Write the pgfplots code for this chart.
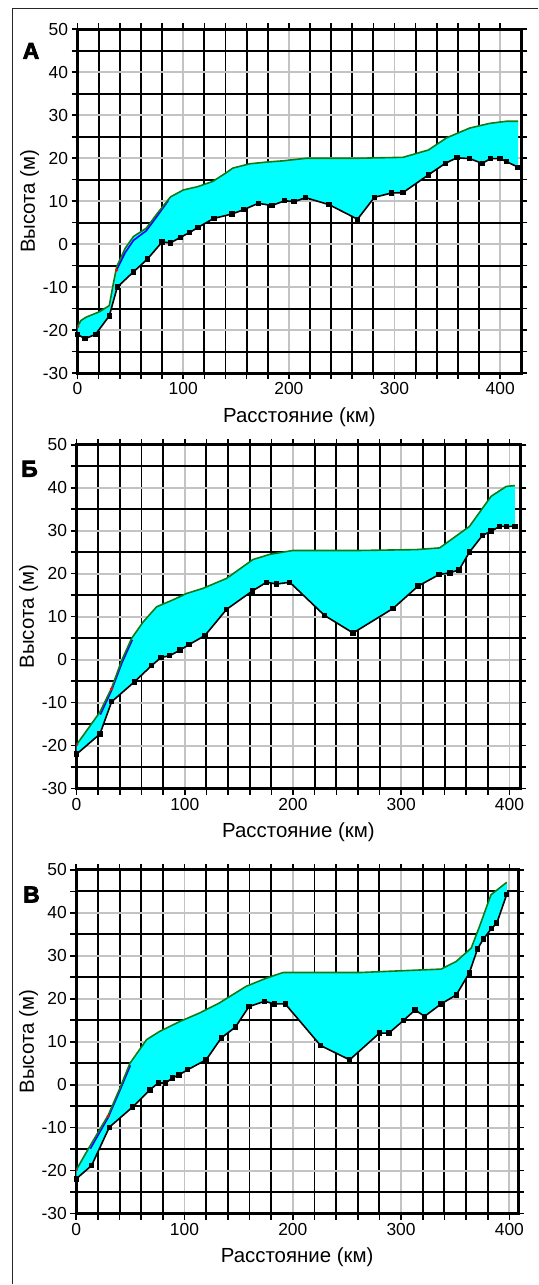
\documentclass[border=0pt]{standalone}
\usepackage{fontspec}
\setmainfont{Liberation Sans}
\newfontfamily\heavyfont[BoldFeatures={FakeBold=3.5}]{Liberation Sans}
\usepackage{pgfplots}
\pgfplotsset{compat=1.18}
\usepackage{pgfplotstable}
\usepgfplotslibrary{fillbetween}
\definecolor{upgreen}{RGB}{20,120,20}
\definecolor{gridgray}{RGB}{195,195,195}
\definecolor{aqua}{RGB}{0,255,255}

\pgfplotstableread{
x y
0 -19.2
3 -17.8
8 -17
21 -15.7
30 -14.3
34 -9
37 -5.3
45 -1
53 1.8
65 3.7
75 7
88 11
100 12.6
114 13.4
128 14.6
140 16.5
147 17.7
163 18.7
179 19.1
195 19.4
217 20
267 20
308 20.2
332 21.9
349 24.7
371 27
390 28.1
406 28.6
417 28.6
}\AUp
\pgfplotstableread{
x y
0 -21
7 -22
17 -21
30 -16.7
37.6 -10
52.7 -6.5
66 -3.5
80 0.5
88 0.3
97.5 1.6
106 2.7
114 3.9
129 6
146 7
157 8
171 9.5
184 9
196 10.1
205 9.9
216 10.8
238 9.2
265 5.8
281 10.9
297 11.9
308 12
332 16.1
348 18.8
359 20.1
371 19.9
383 18.8
391 19.9
400 19.9
406 19.2
417 17.9
}\ALo
\pgfplotstableread{
x y
0 -19.8
21.6 -12.2
32.4 -6.6
42 0
51 5
61.6 8.8
74 12.3
89 13.9
101.7 15.4
117 16.6
138.6 18.9
163 23.3
178.6 24.5
200 25.4
261.7 25.4
314 25.6
335.5 26
363 31
383 38
397 40.3
405 40.5
}\BUp
\pgfplotstableread{
x y
0 -22
21.6 -17.3
32.4 -9.8
53.3 -5.2
69.3 -1.4
78 0.5
86 0.9
95.5 2.2
104 3.5
118.6 5.6
138.6 11.7
162.6 16
175.5 18
185 17.6
197 18
229 10.3
255.5 6.2
292.4 11.9
315.5 17.1
335 19.8
345 20.2
353.4 20.9
363 25
375 28.9
383 29.9
391 31
397 31
405 31
}\BLo
\pgfplotstableread{
x y
0 -19.8
12.6 -14.3
29.5 -7.1
40 -1
49.6 5
65 10.5
77 12.4
95.6 14.7
114 16.7
132 19
157 22.9
175.6 24.8
191 26.1
261.6 26.1
337 26.9
351 28.7
364.8 31.8
372.4 36.8
383 44.2
397.6 47.1
}\CUp
\pgfplotstableread{
x y
0 -21.9
14.2 -18.8
30.5 -9.9
52 -5.2
68 -1.2
75.7 0.4
82.5 0.4
89 1.6
95 2.3
103 3.5
120 5.8
134 10.9
147 13.4
159.6 18.2
174 19.4
183 18.8
193 18.8
225.7 9.1
252.5 5.8
280 12
288.7 12
302 14.9
313 17.4
321.7 15.9
337 18.8
351 20.9
363 26
370.6 31.6
376 33.9
383.7 36.4
388.4 37.6
397.6 44.3
}\CLo

\pgfplotsset{
  prof/.style={
    scale only axis, height=344bp, anchor=south west,
    xmin=0, ymin=-30, ymax=50,
    xtick={0,100,...,400}, ytick={-30,-20,...,50},
    minor x tick num=4, minor y tick num=1,
    grid=both,
    major grid style={line width=1.9bp, gridgray},
    minor grid style={line width=1.9bp, black},
    axis line style={line width=3bp, black},
    tick align=outside,
    major tick length=6bp, minor tick length=6bp,
    every tick/.style={line width=1.6bp, black},
    ticklabel style={font=\fontsize{17.5}{19}\selectfont},
    /pgf/number format/assume math mode=true,
    xlabel={Расстояние (км)}, ylabel={Высота (м)},
    label style={font=\fontsize{20.5}{22}\selectfont},
    xlabel style={at={(axis description cs:0.5,-0.128)}, anchor=center},
    ylabel style={at={(axis description cs:-0.108,0.5)}, anchor=center},
    set layers,
  },
  upl/.style={color=upgreen, line width=1.6bp},
  lol/.style={black, line width=1.6bp, mark=square*, mark size=1.9bp, mark options={solid}},
  bl/.style={blue, line width=1.6bp},
  rd/.style={only marks, red, mark=*, mark size=1.5bp, clip mode=individual},
}

\begin{document}
\begin{tikzpicture}
\path (0,0) rectangle (538bp,1285bp);
\draw[line width=1.4bp, black!85] (12.3bp,0) -- (12.3bp,1276.7bp) -- (538bp,1276.7bp);

\begin{axis}[prof, at={(77.6bp,911.7bp)}, xmax=420, width=444bp]
\addplot[bl] coordinates {(37,-6) (45,-2) (53,0.9) (65,3.1) (75,6.4) (86,10.2)};
\addplot[upl, name path=U] table {\AUp};
\addplot[lol, name path=L] table {\ALo};
\addplot[fill=aqua, draw=none] fill between[of=U and L];
\addplot[rd] coordinates {(0,-19.2) (37,-6)};
\end{axis}

\begin{axis}[prof, at={(76.6bp,496bp)}, xmax=410, width=444bp]
\addplot[bl] coordinates {(22,-12.8) (32.4,-7.1) (42,-0.7) (51.5,4.6)};
\addplot[upl, name path=U] table {\BUp};
\addplot[lol, name path=L] table {\BLo};
\addplot[fill=aqua, draw=none] fill between[of=U and L];
\addplot[rd] coordinates {(0,-19.8) (32.4,-6.8)};
\end{axis}

\begin{axis}[prof, at={(76.3bp,70.7bp)}, xmax=408, width=442bp]
\addplot[bl] coordinates {(13,-14.9) (29.5,-7.6) (40,-1.5) (50,4.5)};
\addplot[upl, name path=U] table {\CUp};
\addplot[lol, name path=L] table {\CLo};
\addplot[fill=aqua, draw=none] fill between[of=U and L];
\addplot[rd] coordinates {(0,-19.8) (29.5,-7.3)};
\end{axis}

\node at (31bp,1234bp) {\fontsize{23}{23}\selectfont\heavyfont\bfseries А};
\node at (29.5bp,816bp) {\fontsize{23}{23}\selectfont\heavyfont\bfseries Б};
\node at (31.5bp,390bp) {\fontsize{23}{23}\selectfont\heavyfont\bfseries В};
\end{tikzpicture}
\end{document}
